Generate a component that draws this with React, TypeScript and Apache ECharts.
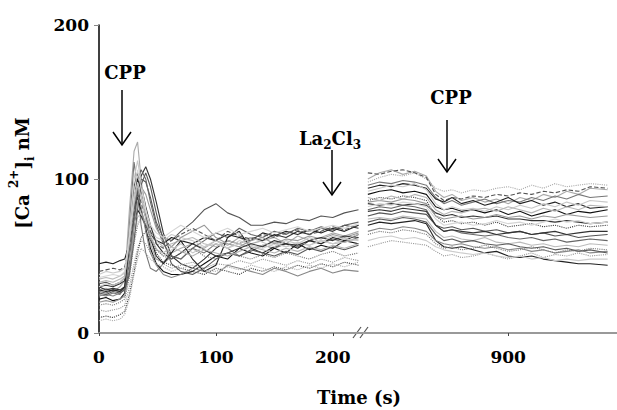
import React, { useEffect, useRef } from "react";
import * as echarts from "echarts";

// Time points (s) for the first segment and the late segment
const tEarly = [0, 6, 12, 18, 22, 26, 30, 33, 36, 40, 44, 49, 55, 62, 70, 80, 90, 100, 110, 120, 130, 140, 150, 160, 170, 180, 190, 200, 210, 222];
const tLate = [780, 790, 800, 810, 820, 830, 838, 845, 852, 860, 870, 880, 890, 900, 910, 920, 930, 940, 950, 960, 970, 985];

// [Ca2+]i (nM) per cell, first segment
const cell01Early = [28, 29, 27, 30, 34, 80, 118, 124, 100, 75, 58, 48, 46, 52, 55, 58, 55, 60, 57, 62, 58, 60, 62, 58, 63, 60, 62, 65, 63, 66];
const cell02Early = [25, 24, 26, 25, 30, 70, 111, 95, 70, 52, 42, 40, 45, 50, 48, 55, 52, 58, 55, 50, 53, 57, 55, 58, 56, 60, 58, 61, 59, 62];
const cell03Early = [30, 28, 29, 28, 30, 40, 70, 92, 102, 108, 100, 85, 65, 50, 45, 42, 48, 55, 60, 58, 62, 60, 64, 62, 66, 64, 68, 66, 70, 68];
const cell04Early = [22, 23, 21, 22, 26, 55, 82, 88, 80, 68, 55, 45, 40, 38, 38, 40, 45, 50, 48, 55, 52, 50, 55, 52, 58, 54, 57, 55, 60, 58];
const cell05Early = [32, 33, 31, 33, 36, 50, 75, 92, 100, 98, 88, 72, 62, 60, 66, 72, 80, 84, 78, 75, 70, 70, 72, 71, 74, 73, 76, 75, 78, 80];
const cell06Early = [45, 46, 45, 47, 48, 58, 72, 80, 76, 70, 64, 60, 58, 62, 60, 58, 62, 60, 64, 62, 60, 65, 63, 66, 64, 67, 65, 68, 66, 70];
const cell07Early = [15, 14, 15, 16, 18, 30, 45, 55, 60, 58, 52, 48, 45, 42, 44, 46, 42, 45, 44, 47, 45, 48, 46, 44, 47, 45, 48, 46, 49, 47];
const cell08Early = [10, 11, 10, 12, 14, 25, 40, 52, 62, 66, 60, 52, 46, 44, 42, 40, 38, 42, 40, 38, 42, 40, 43, 41, 44, 42, 45, 43, 46, 44];
const cell09Early = [27, 26, 28, 27, 29, 45, 80, 100, 106, 100, 85, 70, 58, 50, 48, 55, 60, 65, 62, 68, 64, 62, 66, 64, 68, 66, 69, 67, 70, 72];
const cell10Early = [35, 36, 35, 37, 39, 48, 62, 75, 78, 72, 66, 60, 56, 58, 60, 62, 58, 56, 60, 58, 55, 57, 59, 56, 58, 57, 60, 58, 59, 61];
const cell11Early = [24, 25, 24, 26, 28, 52, 85, 95, 82, 66, 52, 44, 38, 36, 38, 42, 40, 38, 44, 42, 40, 38, 42, 40, 37, 40, 42, 39, 41, 40];
const cell12Early = [28, 27, 28, 27, 30, 58, 90, 100, 92, 78, 62, 50, 45, 52, 60, 48, 40, 44, 62, 66, 55, 52, 56, 58, 55, 60, 58, 62, 60, 64];
const cell13Early = [38, 40, 39, 40, 42, 60, 85, 98, 90, 78, 68, 62, 60, 64, 62, 60, 56, 58, 55, 60, 57, 55, 58, 56, 59, 57, 60, 58, 61, 60];
const cell14Early = [20, 21, 20, 22, 24, 40, 70, 85, 95, 90, 80, 68, 60, 56, 62, 66, 70, 62, 58, 56, 60, 62, 58, 61, 60, 63, 61, 64, 62, 65];
const cell15Early = [30, 31, 30, 32, 34, 62, 95, 104, 96, 82, 70, 58, 52, 48, 52, 58, 54, 50, 52, 55, 58, 56, 60, 58, 57, 60, 62, 60, 63, 62];
const cell16Early = [8, 9, 8, 9, 12, 22, 38, 48, 55, 52, 48, 45, 43, 40, 42, 44, 41, 40, 43, 41, 44, 42, 40, 43, 41, 44, 42, 45, 43, 46];
const cell17Early = [30, 32, 31, 33, 36, 65, 100, 112, 98, 80, 64, 55, 50, 54, 58, 52, 56, 60, 55, 58, 62, 59, 56, 60, 58, 62, 59, 63, 61, 64];
const cell18Early = [40, 41, 42, 41, 43, 55, 78, 90, 85, 75, 66, 58, 55, 60, 64, 68, 64, 60, 66, 63, 61, 64, 62, 65, 67, 64, 66, 69, 67, 70];
const cell19Early = [26, 25, 27, 26, 28, 38, 60, 80, 96, 104, 95, 78, 60, 45, 40, 38, 42, 48, 52, 50, 54, 52, 50, 53, 51, 55, 53, 56, 54, 57];
const cell20Early = [33, 34, 33, 35, 37, 58, 88, 96, 88, 74, 62, 54, 52, 56, 53, 50, 54, 52, 50, 53, 56, 54, 52, 55, 53, 56, 54, 57, 55, 58];
const cell21Early = [18, 19, 18, 20, 22, 36, 58, 70, 75, 70, 62, 54, 50, 48, 52, 55, 50, 48, 52, 50, 48, 51, 49, 52, 50, 48, 51, 53, 50, 52];
const cell22Early = [36, 37, 38, 37, 40, 62, 90, 106, 94, 80, 70, 65, 62, 66, 70, 66, 62, 65, 68, 64, 66, 68, 65, 67, 69, 66, 68, 70, 68, 71];

// [Ca2+]i (nM) per cell, late segment
const cell01Late = [100, 104, 106, 103, 105, 102, 92, 88, 90, 86, 88, 85, 87, 84, 88, 86, 90, 88, 92, 90, 94, 93];
const cell02Late = [96, 98, 97, 99, 98, 96, 88, 84, 86, 83, 85, 87, 84, 86, 85, 88, 86, 89, 87, 90, 88, 89];
const cell03Late = [84, 83, 84, 83, 84, 83, 78, 76, 77, 75, 76, 75, 76, 74, 74, 73, 73, 72, 73, 72, 71, 72];
const cell04Late = [90, 92, 93, 91, 92, 90, 82, 80, 81, 79, 80, 78, 80, 77, 79, 76, 78, 80, 77, 79, 78, 80];
const cell05Late = [76, 78, 77, 79, 78, 77, 70, 68, 69, 67, 68, 66, 67, 65, 66, 64, 65, 63, 64, 62, 63, 64];
const cell06Late = [70, 72, 71, 72, 73, 71, 60, 56, 55, 56, 54, 52, 53, 50, 49, 50, 48, 47, 46, 45, 45, 44];
const cell07Late = [56, 58, 60, 59, 58, 57, 53, 50, 51, 49, 50, 52, 50, 48, 50, 52, 49, 51, 50, 52, 50, 51];
const cell08Late = [86, 88, 87, 89, 88, 86, 76, 72, 73, 71, 72, 70, 72, 69, 70, 71, 69, 70, 68, 70, 69, 70];
const cell09Late = [80, 82, 81, 83, 82, 80, 70, 66, 67, 65, 64, 63, 64, 62, 61, 62, 60, 61, 59, 60, 61, 60];
const cell10Late = [74, 75, 74, 76, 75, 74, 66, 62, 63, 61, 60, 62, 59, 58, 59, 57, 58, 56, 57, 56, 58, 57];
const cell11Late = [66, 68, 67, 69, 68, 66, 60, 58, 57, 58, 56, 55, 56, 54, 55, 53, 54, 52, 53, 54, 52, 53];
const cell12Late = [94, 96, 95, 97, 96, 94, 87, 85, 88, 84, 86, 83, 85, 88, 84, 86, 83, 85, 82, 84, 81, 82];
const cell13Late = [60, 62, 63, 61, 62, 60, 56, 54, 53, 52, 51, 52, 50, 49, 50, 48, 49, 47, 48, 47, 48, 48];
const cell14Late = [85, 86, 85, 87, 86, 84, 76, 74, 75, 76, 74, 75, 77, 75, 76, 74, 76, 75, 77, 76, 75, 76];
const cell15Late = [79, 80, 79, 81, 80, 79, 70, 66, 67, 66, 65, 66, 64, 65, 66, 64, 65, 66, 64, 65, 66, 66];
const cell16Late = [98, 101, 103, 102, 104, 100, 94, 92, 93, 91, 93, 92, 94, 95, 93, 96, 94, 97, 95, 96, 97, 96];
const cell17Late = [92, 94, 96, 95, 97, 93, 84, 80, 82, 80, 81, 79, 82, 80, 83, 81, 84, 82, 85, 83, 86, 85];
const cell18Late = [104, 103, 105, 106, 104, 101, 90, 86, 88, 87, 89, 88, 90, 89, 91, 90, 92, 91, 93, 92, 95, 94];
const cell19Late = [72, 74, 73, 75, 74, 72, 64, 60, 61, 59, 60, 58, 57, 58, 56, 55, 56, 54, 55, 53, 54, 52];
const cell20Late = [88, 86, 89, 87, 90, 88, 80, 77, 79, 78, 80, 81, 79, 82, 80, 78, 81, 79, 82, 80, 83, 82];
const cell21Late = [64, 66, 65, 67, 66, 64, 58, 55, 56, 54, 55, 57, 55, 53, 54, 56, 54, 52, 54, 53, 55, 54];
const cell22Late = [82, 84, 83, 85, 84, 82, 74, 70, 71, 72, 70, 71, 73, 71, 72, 70, 72, 74, 72, 73, 71, 72];

const earlyTraces = [cell01Early, cell02Early, cell03Early, cell04Early, cell05Early, cell06Early, cell07Early, cell08Early, cell09Early, cell10Early, cell11Early, cell12Early, cell13Early, cell14Early, cell15Early, cell16Early, cell17Early, cell18Early, cell19Early, cell20Early, cell21Early, cell22Early];
const lateTraces = [cell01Late, cell02Late, cell03Late, cell04Late, cell05Late, cell06Late, cell07Late, cell08Late, cell09Late, cell10Late, cell11Late, cell12Late, cell13Late, cell14Late, cell15Late, cell16Late, cell17Late, cell18Late, cell19Late, cell20Late, cell21Late, cell22Late];

const yTicks = [0, 100, 200];
const xTicksEarly = [0, 100, 200];
const xTicksLate = [900];

const traceStyles = [
  { color: "#aaaaaa", type: "solid" },
  { color: "#777777", type: "solid" },
  { color: "#333333", type: "solid" },
  { color: "#111111", type: "solid" },
  { color: "#555555", type: "solid" },
  { color: "#222222", type: "solid" },
  { color: "#999999", type: "dotted" },
  { color: "#444444", type: "dotted" },
  { color: "#666666", type: "solid" },
  { color: "#bbbbbb", type: "solid" },
  { color: "#888888", type: "solid" },
  { color: "#222222", type: "solid" },
  { color: "#cccccc", type: "solid" },
  { color: "#999999", type: "solid" },
  { color: "#333333", type: "solid" },
  { color: "#aaaaaa", type: "dotted" },
  { color: "#c8c8c8", type: "solid" },
  { color: "#555555", type: "dashed" },
  { color: "#5a5a5a", type: "solid" },
  { color: "#b5b5b5", type: "solid" },
  { color: "#7a7a7a", type: "dotted" },
  { color: "#d5d5d5", type: "solid" },
];

const FONT = "DejaVu Serif";

export default function App() {
  const ref = useRef<HTMLDivElement>(null);
  useEffect(() => {
    if (!ref.current) return;
    const chart = echarts.init(ref.current, null, { renderer: "svg" });
    const labelStyle = { fontFamily: FONT, fontWeight: "bold" as const, fontSize: 17, color: "#000" };
    const series: any[] = [];
    earlyTraces.forEach((vals, i) => {
      series.push({
        type: "line", xAxisIndex: 0, yAxisIndex: 0, symbol: "none", silent: true,
        data: tEarly.map((t, j) => [t, vals[j]]),
        lineStyle: { width: 1.1, color: traceStyles[i].color, type: traceStyles[i].type },
      });
    });
    lateTraces.forEach((vals, i) => {
      series.push({
        type: "line", xAxisIndex: 1, yAxisIndex: 1, symbol: "none", silent: true,
        data: tLate.map((t, j) => [t, vals[j]]),
        lineStyle: { width: 1.1, color: traceStyles[i].color, type: traceStyles[i].type },
      });
    });
    const arrow = (x: number, y1: number, y2: number) => [
      { type: "line", shape: { x1: x, y1, x2: x, y2 }, style: { stroke: "#000", lineWidth: 1.5 } },
      { type: "polyline", shape: { points: [[x - 9, y2 - 13], [x, y2], [x + 9, y2 - 13]] }, style: { stroke: "#000", lineWidth: 1.5, fill: null } },
    ];
    chart.setOption({
      animation: false,
      backgroundColor: "#fff",
      grid: [
        { left: 99, top: 25, width: 263, height: 308 },
        { left: 362, top: 25, width: 255, height: 308 },
      ],
      xAxis: [
        {
          type: "value", gridIndex: 0, min: 0, max: 225,
          axisLine: { show: true, lineStyle: { color: "#999", width: 2 } },
          axisTick: { show: true, length: 3, customValues: xTicksEarly, lineStyle: { color: "#444" } },
          axisLabel: { ...labelStyle, margin: 15, customValues: xTicksEarly },
          splitLine: { show: false },
        },
        {
          type: "value", gridIndex: 1, min: 775, max: 993,
          axisLine: { show: true, lineStyle: { color: "#999", width: 2 } },
          axisTick: { show: true, length: 3, customValues: xTicksLate, lineStyle: { color: "#444" } },
          axisLabel: { ...labelStyle, margin: 15, customValues: xTicksLate },
          splitLine: { show: false },
        },
      ],
      yAxis: [
        {
          type: "value", gridIndex: 0, min: 0, max: 200, interval: 100,
          axisLine: { show: true, lineStyle: { color: "#000", width: 1.5 } },
          axisTick: { show: true, length: 5, lineStyle: { color: "#888" } },
          axisLabel: { ...labelStyle, margin: 10, customValues: yTicks },
          splitLine: { show: false },
        },
        {
          type: "value", gridIndex: 1, min: 0, max: 200, interval: 100,
          show: false,
        },
      ],
      series,
      graphic: [
        { type: "line", shape: { x1: 353, y1: 338, x2: 361, y2: 327 }, style: { stroke: "#555", lineWidth: 1.2 } },
        { type: "line", shape: { x1: 360, y1: 338, x2: 368, y2: 327 }, style: { stroke: "#555", lineWidth: 1.2 } },
        ...arrow(122, 90, 145),
        ...arrow(332, 150, 195),
        ...arrow(447, 120, 172),
        { type: "text", x: 125, y: 72, style: { text: "CPP", fontFamily: FONT, fontWeight: "bold", fontSize: 18, fill: "#000", align: "center", verticalAlign: "middle" } },
        { type: "text", x: 451, y: 97, style: { text: "CPP", fontFamily: FONT, fontWeight: "bold", fontSize: 18, fill: "#000", align: "center", verticalAlign: "middle" } },
        {
          type: "text", x: 330, y: 138,
          style: {
            text: "{n|La}{s|2}{n|Cl}{s|3}", align: "center", verticalAlign: "middle", fill: "#000",
            rich: {
              n: { fontFamily: FONT, fontWeight: "bold", fontSize: 18, lineHeight: 26, verticalAlign: "middle" },
              s: { fontFamily: FONT, fontWeight: "bold", fontSize: 12, lineHeight: 26, verticalAlign: "bottom" },
            },
          },
        },
        { type: "text", x: 359, y: 397, style: { text: "Time (s)", fontFamily: FONT, fontWeight: "bold", fontSize: 18, fill: "#000", align: "center", verticalAlign: "middle" } },
        {
          type: "text", x: 22, y: 173, rotation: Math.PI / 2,
          style: {
            text: "{n|[Ca }{p|2+}{n|]}{b|i}{n| nM}", align: "center", verticalAlign: "middle", fill: "#000",
            rich: {
              n: { fontFamily: FONT, fontWeight: "bold", fontSize: 18, lineHeight: 28, verticalAlign: "middle" },
              p: { fontFamily: FONT, fontWeight: "bold", fontSize: 12, lineHeight: 28, verticalAlign: "top" },
              b: { fontFamily: FONT, fontWeight: "bold", fontSize: 12, lineHeight: 28, verticalAlign: "bottom" },
            },
          },
        },
      ],
    });
    return () => chart.dispose();
  }, []);
  return <div ref={ref} style={{ position: "fixed", left: 0, top: 0, width: 617, height: 410 }} />;
}
